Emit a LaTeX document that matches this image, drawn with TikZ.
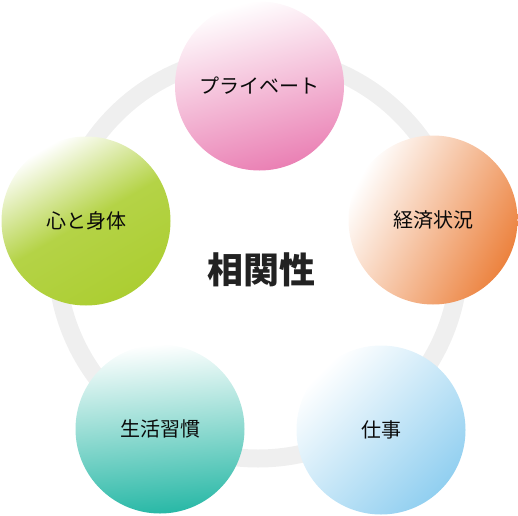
\documentclass[tikz,border=0pt]{standalone}
\usepackage{fontspec}
\newfontfamily\jpfont{Noto Sans CJK JP}
\usetikzlibrary{positioning}
\usepackage{xcolor}
\definecolor{ringcolor}{RGB}{239,239,239}
\definecolor{privcolor}{RGB}{234,128,180}
\definecolor{moneycolor}{RGB}{236,130,62}
\definecolor{workcolor}{RGB}{145,207,240}
\definecolor{lifecolor}{RGB}{40,184,166}
\definecolor{bodycolor}{RGB}{172,206,50}
\definecolor{labelcolor}{RGB}{10,10,10}
\definecolor{titlecolor}{RGB}{34,34,34}
\tikzset{
    bubble/.style={circle, minimum size=169pt, inner sep=0pt, top color=white,
        font=\jpfont\fontsize{20}{24}\selectfont, text=labelcolor},
    ring/.style={draw=ringcolor, line width=18pt},
    title/.style={font=\jpfont\bfseries\fontsize{36}{40}\selectfont, text=titlecolor}
}

\begin{document}
\begin{tikzpicture}[x=1pt, y=1pt]

    \useasboundingbox (0,0) rectangle (518,515);

    % ring behind the five bubbles
    \coordinate (hub) at (258,258);
    \draw[ring] (hub) circle (201.5);

    \node[title] (corr) at (261,245) {相関性};

    \node[bubble, bottom color=privcolor, shading angle=15] (priv) at (259.5,429) {プライベート};
    \node[bubble, bottom color=moneycolor, shading angle=62] (money) at (433,295) {経済状況};
    \node[bubble, bottom color=workcolor, shading angle=45] (work) at (381,85) {仕事};
    \node[bubble, bottom color=lifecolor, shading angle=5] (life) at (160,86) {生活習慣};
    \node[bubble, bottom color=bodycolor, middle color=bodycolor!90!white, shading angle=30] (body) at (86,294) {心と身体};

\end{tikzpicture}
\end{document}
